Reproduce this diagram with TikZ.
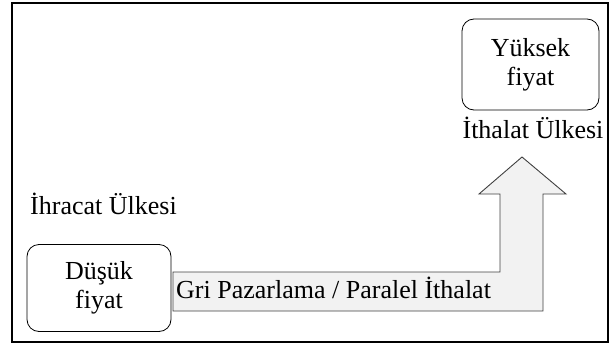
\documentclass[tikz,border=0pt]{standalone}
\usepackage{fontspec}
\setmainfont{Liberation Serif}
\begin{document}
\begin{tikzpicture}[x=1pt,y=-1pt,
  txt/.style={font=\fontsize{26}{29}\selectfont, inner sep=0pt},
  pricebox/.style={draw, rounded corners=12pt, line width=0.8pt, txt, align=center},
  blockarrow/.style={draw=black!75, fill=black!5, line width=0.9pt}]
\useasboundingbox (0,0) rectangle (610,345);
\draw[line width=1.6pt] (12,3) rectangle (608,342);
\node[pricebox, minimum width=144pt, minimum height=87pt] (low) at (99,288) {Düşük\\fiyat};
\node[pricebox, minimum width=137pt, minimum height=91pt] (high) at (530.5,64.5) {Yüksek\\fiyat};
\node[txt, anchor=base] (imp) at (533,138) {İthalat Ülkesi};
\node[txt, anchor=base west] (exp) at (30,214) {İhracat Ülkesi};
\draw[blockarrow] (173,272) -- (500,272) -- (500,194) -- (479,194) -- (522,157) -- (566,194) -- (543,194) -- (543,311) -- (173,311) -- cycle;
\node[txt, anchor=base west] (gray) at (176,298) {Gri Pazarlama / Paralel İthalat};
\end{tikzpicture}
\end{document}
